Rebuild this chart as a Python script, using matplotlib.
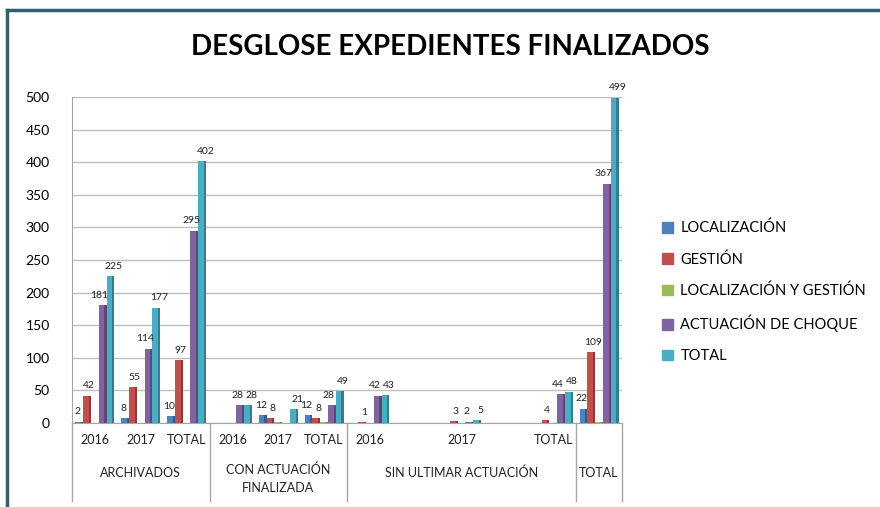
import numpy as np
import matplotlib.pyplot as plt
import matplotlib.transforms as mtransforms
from matplotlib.lines import Line2D
from matplotlib.patches import Patch
import matplotlib.colors as mcolors

plt.rcParams['font.family'] = ['Lato', 'DejaVu Sans']

# categorias (hay huecos vacios en SIN ULTIMAR ACTUACION, como en el original)
sub_etiquetas = ['2016', '2017', 'TOTAL', '2016', '2017', 'TOTAL',
                 '2016', '', '2017', '', 'TOTAL', '']
grupos = ['ARCHIVADOS', 'CON ACTUACIÓN\nFINALIZADA', 'SIN ULTIMAR ACTUACIÓN', 'TOTAL']
grupo_inicio = [0, 3, 6, 11]
grupo_fin = [2, 5, 10, 11]

series = ['LOCALIZACIÓN', 'GESTIÓN', 'LOCALIZACIÓN Y GESTIÓN', 'ACTUACIÓN DE CHOQUE', 'TOTAL']
localizacion = [2, 8, 10, 0, 12, 12, 0, 0, 0, 0, 0, 22]
gestion = [42, 55, 97, 0, 8, 8, 1, 0, 3, 0, 4, 109]
loc_gestion = [0, 0, 0, 0, 1, 1, 0, 0, 0, 0, 0, 1]
choque = [181, 114, 295, 28, 0, 28, 42, 0, 2, 0, 44, 367]
total = [225, 177, 402, 28, 21, 49, 43, 0, 5, 0, 48, 499]

valores = [localizacion, gestion, loc_gestion, choque, total]
colores = ['#4F81BD', '#C0504D', '#9BBB59', '#8064A2', '#4BACC6']
con_etiqueta = [True, True, False, True, True]
desplaz_etiqueta = [-0.04, 0.04, 0, -0.07, 0.07]

fig = plt.figure(figsize=(8.8, 5.07), dpi=100)
ax = fig.add_axes([72/880, 1-423/507, 550/880, 326/507])

x = np.arange(len(sub_etiquetas))
w = 0.17
for i in range(5):
    off = (i - 2) * w
    v = np.array(valores[i])
    oscuro = [c * 0.72 for c in mcolors.to_rgb(colores[i])]
    ax.bar(x + off, v, w, color=colores[i], zorder=3)
    ax.bar(x + off + w * 0.36, v, w * 0.28, color=oscuro, zorder=3)
    if con_etiqueta[i]:
        for xi, vi in zip(x, v):
            if vi > 0:
                ax.text(xi + off + desplaz_etiqueta[i], vi + 8, str(vi), ha='center', va='bottom',
                        fontsize=7.5, color='#222222', zorder=4)

ax.set_xlim(-0.5, len(sub_etiquetas) - 0.5)
ax.set_ylim(0, 500)
ax.set_yticks(range(0, 501, 50))
ax.tick_params(axis='y', length=0, pad=16, labelsize=10)
ax.tick_params(axis='x', length=0, labelbottom=False)
ax.yaxis.grid(True, color='#BFBFBF', linewidth=1)
ax.set_axisbelow(True)
for s in ['top', 'right']:
    ax.spines[s].set_visible(False)
ax.spines['left'].set_color('#A6A6A6')
ax.spines['bottom'].set_color('#A6A6A6')

# eje de categorias en dos niveles
tr = mtransforms.blended_transform_factory(ax.transData, ax.transAxes)
for xi, lab in zip(x, sub_etiquetas):
    if lab:
        ax.text(xi, -0.052, lab, transform=tr, ha='center', va='center',
                fontsize=9, color='#222222')
for g, a, b in zip(grupos, grupo_inicio, grupo_fin):
    if '\n' in g:
        ax.text((a + b) / 2, -0.125, g, transform=tr, ha='center', va='top',
                fontsize=9, color='#222222', linespacing=1.55)
    else:
        ax.text((a + b) / 2, -0.153, g, transform=tr, ha='center', va='center',
                fontsize=9, color='#222222')
for sep in [-0.5, 2.5, 5.5, 10.5, 11.5]:
    ax.plot([sep, sep], [0, -0.24], transform=tr, color='#A6A6A6',
            linewidth=1, clip_on=False)

fig.suptitle('DESGLOSE EXPEDIENTES FINALIZADOS', x=450/880, y=1-47/507,
             va='center', fontsize=20, fontweight='bold')

handles = [Patch(color=c) for c in colores]
fig.legend(handles, series, loc='center left', bbox_to_anchor=(649/880, 1-292/507),
           frameon=False, fontsize=10.5, handlelength=0.75, handleheight=0.75,
           handletextpad=0.5, labelspacing=1.15)

# marco del grafico
fig.add_artist(Line2D([7/880, 1], [1-10/507, 1-10/507], color='#31606E', linewidth=2.5))
fig.add_artist(Line2D([7/880, 7/880], [0, 1-10/507], color='#31606E', linewidth=2.5))

fig.savefig('out.png', dpi=100)
